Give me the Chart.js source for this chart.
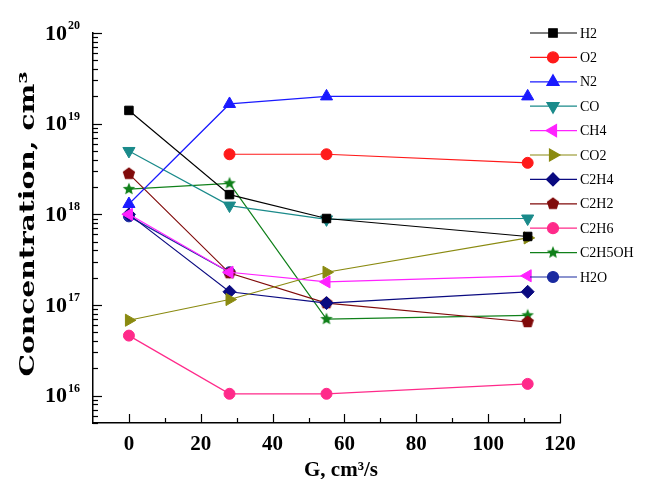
<!DOCTYPE html>
<html>
<head>
<meta charset="utf-8">
<script src="https://cdn.jsdelivr.net/npm/chart.js@4.4.0/dist/chart.umd.min.js"></script>
<style>
  body { margin: 0; background: #fff; }
  #wrap { width: 653px; height: 479px; }
</style>
</head>
<body>
<div id="wrap"><canvas id="concChart"></canvas></div>
<script>
// ============================
// Data
// ============================
const flowRates = [0, 28, 55, 111];
const seriesNames = ["H2", "O2", "N2", "CO", "CH4", "CO2", "C2H4", "C2H2", "C2H6", "C2H5OH", "H2O"];

const h2     = [1.4e19, 1.65e18, 9.0e17, 5.7e17];
const o2     = [null,   4.6e18,  4.6e18, 3.7e18];
const n2     = [1.3e18, 1.65e19, 2.0e19, 2.0e19];
const co     = [5.0e18, 1.25e18, 8.8e17, 9.0e17];
const ch4    = [1.0e18, 2.3e17,  1.8e17, 2.1e17];
const co2    = [6.8e16, 1.15e17, 2.3e17, 5.5e17];
const c2h4   = [1.0e18, 1.4e17,  1.05e17, 1.4e17];
const c2h2   = [2.8e18, 2.25e17, 1.05e17, 6.5e16];
const c2h6   = [4.6e16, 1.05e16, 1.05e16, 1.35e16];
const c2h5oh = [1.9e18, 2.2e18,  7.0e16, 7.7e16];
const h2o    = [0.95e18, 2.3e17, null, null];

const seriesValues = [h2, o2, n2, co, ch4, co2, c2h4, c2h2, c2h6, c2h5oh, h2o];

const xTicks = [0, 20, 40, 60, 80, 100, 120];
const yTicks = [1e16, 1e17, 1e18, 1e19, 1e20];

// ============================
// Styles
// ============================
const seriesColors = ["#000000", "#ff1a1a", "#1a1aff", "#1a8a8a", "#ff22ff", "#8a8a10",
                      "#0a0a80", "#800a0a", "#ff2a8a", "#10801a", "#1a2aa0"];

function polygonMarker(color, n, inner) {
    const size = 14;
    const c = document.createElement("canvas");
    c.width = size; c.height = size;
    const g = c.getContext("2d");
    const r = size / 2 - 0.5;
    const steps = inner ? n * 2 : n;
    g.beginPath();
    for (let i = 0; i < steps; i++) {
        const a = -Math.PI / 2 + i * Math.PI * 2 / steps;
        const rr = inner && i % 2 ? r * inner : r;
        const px = size / 2 + rr * Math.cos(a);
        const py = size / 2 + rr * Math.sin(a);
        if (i === 0) g.moveTo(px, py); else g.lineTo(px, py);
    }
    g.closePath();
    g.fillStyle = color;
    g.fill();
    return c;
}

const seriesMarkers = [
    { style: "rect", rotation: 0, radius: 6 },
    { style: "circle", rotation: 0, radius: 5.5 },
    { style: "triangle", rotation: 0, radius: 7 },
    { style: "triangle", rotation: 180, radius: 7 },
    { style: "triangle", rotation: 270, radius: 7 },
    { style: "triangle", rotation: 90, radius: 7 },
    { style: "rectRot", rotation: 0, radius: 6.5 },
    { style: polygonMarker(seriesColors[7], 5), rotation: 0, radius: 7 },
    { style: "circle", rotation: 0, radius: 5.5 },
    { style: polygonMarker(seriesColors[9], 5, 0.45), rotation: 0, radius: 7 },
    { style: "circle", rotation: 0, radius: 5.5 }
];

// ============================
// Axis ticks, labels, titles and legend
// ============================
const decorPlugin = {
    id: "decor",
    afterDraw(chart) {
        const ctx = chart.ctx;
        const xs = chart.scales.x;
        const ys = chart.scales.y;
        const area = chart.chartArea;
        ctx.save();
        ctx.strokeStyle = "#000";
        ctx.lineWidth = 1.2;

        // y ticks, inward
        for (let e = 15; e <= 20; e++) {
            for (let k = 1; k <= 9; k++) {
                const v = k * Math.pow(10, e);
                if (v < ys.min * 0.999 || v > ys.max * 1.001) continue;
                const py = Math.round(ys.getPixelForValue(v)) + 0.5;
                const len = k === 1 ? 9 : 5;
                ctx.beginPath();
                ctx.moveTo(area.left, py);
                ctx.lineTo(area.left + len, py);
                ctx.stroke();
            }
        }
        // x ticks, inward
        for (let v = 0; v <= 120; v += 10) {
            const px = Math.round(xs.getPixelForValue(v)) + 0.5;
            const len = v % 20 === 0 ? 9 : 5;
            ctx.beginPath();
            ctx.moveTo(px, area.bottom);
            ctx.lineTo(px, area.bottom - len);
            ctx.stroke();
        }

        // y tick labels with superscript exponents
        ctx.fillStyle = "#000";
        yTicks.forEach(v => {
            const py = ys.getPixelForValue(v);
            const exp = Math.round(Math.log10(v));
            ctx.font = "bold 22px 'Liberation Serif'";
            ctx.textAlign = "right";
            ctx.textBaseline = "middle";
            ctx.fillText("10", 67, py + 1);
            ctx.font = "bold 12px 'Liberation Serif'";
            ctx.textAlign = "left";
            ctx.textBaseline = "alphabetic";
            ctx.fillText(String(exp), 68, py - 4);
        });

        // axis titles (y title stretched to the length seen in the figure)
        ctx.save();
        ctx.translate(29, 224);
        ctx.rotate(-Math.PI / 2);
        ctx.font = "bold 21px 'DejaVu Serif'";
        const yTitle = "Concentration, cm³";
        const stretch = 305 / ctx.measureText(yTitle).width;
        ctx.scale(stretch, 1);
        ctx.textAlign = "center";
        ctx.textBaseline = "middle";
        ctx.fillText(yTitle, 0, 0);
        ctx.restore();

        ctx.font = "bold 21px 'Liberation Serif'";
        ctx.textAlign = "center";
        ctx.textBaseline = "alphabetic";
        ctx.fillText("G, cm³/s", 341, 476);

        // legend: line + marker + name
        chart.data.datasets.forEach((ds, i) => {
            const ly = 33 + i * 24.4;
            ctx.strokeStyle = ds.borderColor;
            ctx.fillStyle = ds.backgroundColor;
            ctx.lineWidth = 1.2;
            ctx.beginPath();
            ctx.moveTo(530, ly);
            ctx.lineTo(577, ly);
            ctx.stroke();
            Chart.helpers.drawPoint(ctx, {
                pointStyle: ds.pointStyle,
                rotation: ds.pointRotation,
                radius: ds.pointRadius,
                borderWidth: 1
            }, 553, ly);
            ctx.fillStyle = "#000";
            ctx.font = "14px 'Liberation Serif'";
            ctx.textAlign = "left";
            ctx.textBaseline = "middle";
            ctx.fillText(ds.label, 580, ly + 1);
        });
        ctx.restore();
    }
};

// ============================
// Chart
// ============================
document.addEventListener("DOMContentLoaded", function () {

    if (typeof Chart === "undefined") return;

    const datasets = seriesNames.map((name, i) => {
        const pts = [];
        flowRates.forEach((x, j) => {
            if (seriesValues[i][j] !== null) pts.push({ x: x, y: seriesValues[i][j] });
        });
        return {
            label: name,
            data: pts,
            borderColor: seriesColors[i],
            backgroundColor: seriesColors[i],
            borderWidth: 1.2,
            pointStyle: seriesMarkers[i].style,
            pointRotation: seriesMarkers[i].rotation,
            pointRadius: seriesMarkers[i].radius,
            pointBorderWidth: 1,
            tension: 0
        };
    });

    new Chart(document.getElementById("concChart"), {
        type: "line",
        data: { datasets: datasets },
        options: {
            responsive: true,
            maintainAspectRatio: false,
            animation: false,
            layout: { padding: { top: 33, right: 93, bottom: 0, left: 0 } },
            plugins: {
                legend: { display: false },
                tooltip: { enabled: false }
            },
            scales: {
                x: {
                    type: "linear",
                    min: -10,
                    max: 120,
                    afterBuildTicks: scale => { scale.ticks = xTicks.map(v => ({ value: v })); },
                    afterFit: scale => { scale.height = 56; },
                    grid: { display: false, drawTicks: false },
                    border: { color: "#000", width: 1.5 },
                    ticks: {
                        color: "#000",
                        padding: 9,
                        maxRotation: 0,
                        font: { family: "'Liberation Serif'", size: 21, weight: "bold" }
                    }
                },
                y: {
                    type: "logarithmic",
                    min: 5e15,
                    max: 1e20,
                    afterFit: scale => { scale.width = 93; },
                    grid: { display: false, drawTicks: false },
                    border: { color: "#000", width: 1.5 },
                    ticks: { display: false }
                }
            }
        },
        plugins: [decorPlugin]
    });

});
</script>
</body>
</html>
